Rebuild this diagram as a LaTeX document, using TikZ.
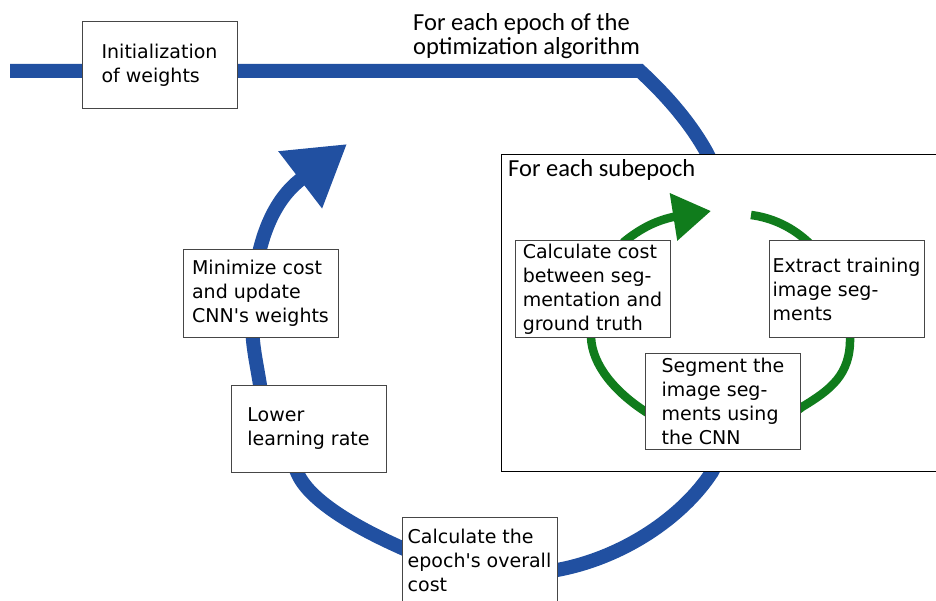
\documentclass[tikz,border=0pt]{standalone}
\usepackage{fontspec}
\setmainfont{DejaVu Sans}
\newfontfamily\boxfont{DejaVu Sans}
\newfontfamily\calfont{Carlito}
\usetikzlibrary{arrows.meta}
\definecolor{loopblue}{RGB}{33,80,161}
\definecolor{loopgreen}{RGB}{16,124,28}
\definecolor{boxline}{RGB}{70,70,70}
\begin{document}
\begin{tikzpicture}[x=1pt,y=-1pt,
  box/.style={draw=boxline, line width=1pt, fill=white, inner sep=0pt,
    minimum width=155pt, minimum height=87pt, align=left,
    font=\boxfont\fontsize{19pt}{24pt}\selectfont},
  tallbox/.style={box, minimum height=96pt},
  bluepath/.style={draw=loopblue, line width=14pt},
  greenpath/.style={draw=loopgreen, line width=8.5pt},
  caption/.style={font=\calfont\fontsize{24.5pt}{24.5pt}\selectfont, inner sep=0pt, align=left}]
\useasboundingbox (0,0) rectangle (936,601);
\fill[white] (0,0) rectangle (936,601);

% outer epoch loop
\coordinate (bstart) at (10,71);
\coordinate (bcorner) at (640,71);
\coordinate (btip) at (347,144);
\draw[bluepath, -{Triangle[length=59pt,width=68pt]}] (bstart) -- (bcorner)
  .. controls (665,94) and (690,122) .. (707,153)
  .. controls (740,215) and (750,400) .. (712,472)
  .. controls (682,518) and (622,558) .. (557,570)
  .. controls (500,582) and (440,565) .. (402,548)
  .. controls (355,527) and (308,500) .. (297,472)
  .. controls (285,445) and (262,410) .. (260,385)
  .. controls (256,360) and (252,345) .. (252,320)
  .. controls (252,270) and (262,210) .. (300,180)
  -- (btip);

% subepoch frame
\node[draw=black, line width=1.2pt, fill=white, minimum width=450pt, minimum height=317pt,
  anchor=north west, inner sep=0pt] (sub) at (501,154) {};
\node[caption, anchor=base west] (sublbl) at (508,177) {For each subepoch};
\node[caption, anchor=north west] (epochlbl) at (413,13) {For each epoch of the\\optimization algorithm};

% inner subepoch loop
\coordinate (gstart) at (751,215);
\coordinate (gtip) at (711,211);
\draw[greenpath, -{Triangle[length=38pt,width=46pt]}] (gstart)
  .. controls (790,220) and (840,250) .. (850,337)
  .. controls (851,375) and (830,390) .. (802,407)
  .. controls (760,440) and (690,440) .. (646,412)
  .. controls (615,392) and (592,365) .. (591,337)
  .. controls (590,290) and (610,255) .. (625,241)
  .. controls (640,229) and (655,221) .. (673,217)
  -- (gtip);

% boxes
\node[box] (init) at (159.5,65.5) {Initialization\\of weights};
\node[box] (minimize) at (260.5,293.5) {Minimize cost\\and update\\CNN's weights};
\node[box] (lower) at (308.5,428.5) {Lower\\learning rate};
\node[box] (overall) at (479.5,560.5) {Calculate the\\epoch's overall\\cost};
\node[tallbox] (calccost) at (592.5,289) {Calculate cost\\between seg-\\mentation and\\ground truth};
\node[tallbox] (extract) at (846.5,289) {Extract training\\image seg-\\ments};
\node[tallbox] (segment) at (723,401.5) {Segment the\\image seg-\\ments using\\the CNN};
\end{tikzpicture}
\end{document}
